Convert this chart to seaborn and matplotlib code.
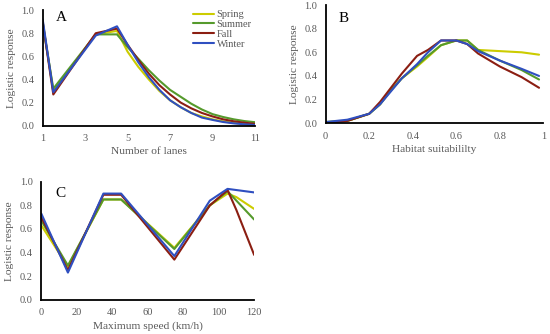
import matplotlib
matplotlib.use("Agg")
import matplotlib.pyplot as plt
import seaborn as sns
import pandas as pd
from matplotlib.ticker import FixedLocator

seasons = ["Spring", "Summer", "Fall", "Winter"]
colors = ["#cccc00", "#559a2c", "#8b1e12", "#2f4fc0"]

# Panel A: number of lanes
lanes_x = [1, 1.5, 3.5, 4.5, 5, 5.5, 6, 6.5, 7, 7.5, 8, 8.5, 9, 9.5, 10, 10.5, 11]
lanes_spring = [0.90, 0.30, 0.79, 0.82, 0.64, 0.51, 0.40, 0.30, 0.22, 0.16, 0.11, 0.08, 0.055, 0.037, 0.024, 0.015, 0.009]
lanes_summer = [0.88, 0.32, 0.79, 0.79, 0.68, 0.58, 0.48, 0.39, 0.31, 0.25, 0.19, 0.14, 0.10, 0.075, 0.055, 0.04, 0.03]
lanes_fall = [0.90, 0.27, 0.80, 0.84, 0.70, 0.57, 0.45, 0.35, 0.27, 0.20, 0.15, 0.11, 0.08, 0.055, 0.038, 0.026, 0.016]
lanes_winter = [0.92, 0.29, 0.78, 0.86, 0.70, 0.55, 0.42, 0.31, 0.22, 0.16, 0.11, 0.07, 0.05, 0.032, 0.02, 0.012, 0.006]

# Panel B: habitat suitability
hab_x = [0, 0.1, 0.2, 0.25, 0.3, 0.35, 0.42, 0.47, 0.53, 0.6, 0.65, 0.7, 0.8, 0.9, 0.98]
hab_spring = [0.01, 0.02, 0.08, 0.16, 0.28, 0.38, 0.48, 0.56, 0.66, 0.70, 0.70, 0.62, 0.61, 0.60, 0.58]
hab_summer = [0.01, 0.02, 0.08, 0.16, 0.28, 0.38, 0.49, 0.57, 0.66, 0.70, 0.70, 0.62, 0.53, 0.45, 0.37]
hab_fall = [0.00, 0.02, 0.08, 0.18, 0.30, 0.42, 0.57, 0.62, 0.70, 0.70, 0.67, 0.59, 0.48, 0.39, 0.30]
hab_winter = [0.01, 0.03, 0.08, 0.16, 0.27, 0.38, 0.50, 0.60, 0.70, 0.70, 0.67, 0.61, 0.53, 0.46, 0.40]

# Panel C: maximum speed
spd_x = [0, 15, 35, 45, 75, 95, 105, 110, 120]
spd_spring = [0.63, 0.28, 0.85, 0.85, 0.44, 0.80, 0.90, 0.87, 0.77]
spd_summer = [0.67, 0.29, 0.85, 0.85, 0.43, 0.80, 0.92, 0.84, 0.68]
spd_fall = [0.70, 0.25, 0.89, 0.89, 0.34, 0.80, 0.93, 0.76, 0.38]
spd_winter = [0.73, 0.23, 0.90, 0.90, 0.37, 0.84, 0.94, 0.93, 0.91]


def long_df(x, series):
    rows = []
    for s, vals in zip(seasons, series):
        for xi, yi in zip(x, vals):
            rows.append({"x": xi, "y": yi, "Season": s})
    return pd.DataFrame(rows)


dfA = long_df(lanes_x, [lanes_spring, lanes_summer, lanes_fall, lanes_winter])
dfB = long_df(hab_x, [hab_spring, hab_summer, hab_fall, hab_winter])
dfC = long_df(spd_x, [spd_spring, spd_summer, spd_fall, spd_winter])

sns.set_theme(style="white")
plt.rcParams["font.family"] = ["Liberation Serif", "DejaVu Serif"]

fig = plt.figure(figsize=(5.5, 3.34), dpi=100)
axA = fig.add_axes([0.0776, 0.6237, 0.386, 0.346])
axB = fig.add_axes([0.592, 0.631, 0.396, 0.354])
axC = fig.add_axes([0.0751, 0.1027, 0.387, 0.353])

pal = dict(zip(seasons, colors))
gray = "#595959"

for ax, df, xlabel, xlim, xticks, xticklabels, letter, lpos in [
    (axA, dfA, "Number of lanes", (1, 11), [1, 3, 5, 7, 9, 11], ["1", "3", "5", "7", "9", "11"], "A", (0.063, 0.905)),
    (axB, dfB, "Habitat suitabililty", (0, 1), [0, 0.2, 0.4, 0.6, 0.8, 1], ["0", "0.2", "0.4", "0.6", "0.8", "1"], "B", (0.061, 0.856)),
    (axC, dfC, "Maximum speed (km/h)", (0, 120), [0, 20, 40, 60, 80, 100, 120], ["0", "20", "40", "60", "80", "100", "120"], "C", (0.064, 0.87)),
]:
    sns.lineplot(data=df, x="x", y="y", hue="Season", palette=pal, hue_order=seasons,
                 linewidth=1.5, ax=ax, legend=(ax is axA))
    ax.set_xlim(*xlim)
    ax.set_ylim(0, 1.0)
    ax.xaxis.set_major_locator(FixedLocator(xticks))
    ax.set_xticklabels(xticklabels)
    ax.set_yticks([0, 0.2, 0.4, 0.6, 0.8, 1.0])
    ax.set_yticklabels(["0.0", "0.2", "0.4", "0.6", "0.8", "1.0"])
    ax.tick_params(axis="both", length=0, labelsize=7.5, colors=gray, pad=6)
    ax.set_xlabel(xlabel, fontsize=8.2, color=gray, labelpad=3)
    ax.set_ylabel("Logistic response", fontsize=8.2, color=gray, labelpad=4)
    for side in ["top", "right"]:
        ax.spines[side].set_visible(False)
    for side in ["left", "bottom"]:
        ax.spines[side].set_color("black")
        ax.spines[side].set_linewidth(1.3)
    ax.patch.set_alpha(0)
    ax.text(lpos[0], lpos[1], letter, transform=ax.transAxes, fontsize=11, color="black",
            ha="left", va="baseline")

leg = axA.legend(loc="upper right", bbox_to_anchor=(1.014, 1.055), frameon=False, fontsize=7.5,
                 handlelength=2.0, handletextpad=0.25, labelspacing=0.05, borderpad=0.1)
for t in leg.get_texts():
    t.set_color(gray)
for line in leg.get_lines():
    line.set_linewidth(1.5)

fig.savefig("out.png", dpi=100)
